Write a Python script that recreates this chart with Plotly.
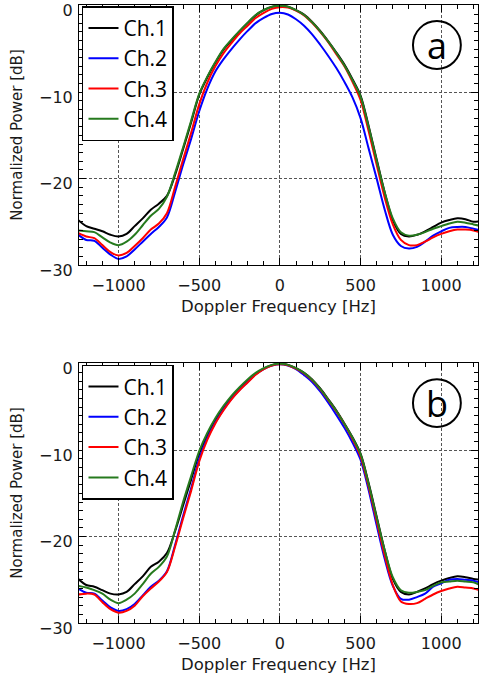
import plotly.graph_objects as go

# Doppler frequency grid [Hz]
freq = [-1250, -1200, -1150, -1100, -1050, -1000, -950, -900, -850, -800,
        -750, -700, -650, -600, -550, -500, -450, -400, -350, -300,
        -250, -200, -150, -100, -50, 0, 50, 100, 150, 200,
        250, 300, 350, 400, 450, 500, 550, 600, 650, 700,
        750, 800, 850, 900, 950, 1000, 1050, 1100, 1150, 1200, 1250]

channels = ["Ch.1", "Ch.2", "Ch.3", "Ch.4"]
colors = ["#000000", "#0000ff", "#ff0000", "#267a1e"]

# Panel (a) normalized power [dB]
a_ch1 = [-24.8, -25.5, -25.8, -26.1, -26.5, -26.7, -26.4, -25.5, -24.6, -23.6,
         -22.9, -22.0, -19.6, -16.6, -13.5, -10.3, -8.3, -6.6, -5.1, -4.0,
         -2.95, -2.0, -1.1, -0.5, -0.12, 0.0, -0.1, -0.5, -1.0, -1.85,
         -2.9, -4.1, -5.4, -6.8, -8.5, -10.4, -13.9, -17.8, -21.6, -24.8,
         -26.4, -26.7, -26.5, -26.1, -25.6, -25.1, -24.8, -24.6, -24.7, -25.0, -24.9]
a_ch2 = [-26.5, -27.1, -27.2, -28.0, -28.8, -29.3, -29.0, -28.2, -27.3, -26.4,
         -25.6, -24.5, -21.6, -18.4, -15.4, -12.2, -9.6, -7.6, -6.2, -5.0,
         -3.9, -2.9, -2.0, -1.4, -0.95, -0.8, -1.0, -1.55, -2.3, -3.3,
         -4.5, -5.8, -7.2, -8.8, -10.6, -13.0, -16.5, -20.0, -23.6, -26.5,
         -27.8, -28.1, -27.9, -27.3, -26.6, -26.1, -25.7, -25.6, -25.6, -25.8, -26.0]
a_ch3 = [-26.3, -26.7, -26.9, -27.7, -28.5, -28.9, -28.6, -27.8, -26.9, -25.9,
         -25.2, -24.0, -21.0, -17.8, -14.7, -11.4, -8.9, -7.0, -5.5, -4.3,
         -3.2, -2.3, -1.4, -0.8, -0.35, -0.15, -0.2, -0.55, -1.1, -1.95,
         -3.0, -4.2, -5.6, -7.0, -8.8, -10.9, -14.5, -18.4, -22.2, -25.3,
         -27.1, -27.7, -27.7, -27.3, -26.8, -26.4, -26.1, -25.9, -25.9, -26.0, -26.3]
a_ch4 = [-26.0, -26.1, -26.2, -26.8, -27.4, -27.7, -27.3, -26.5, -25.4, -24.3,
         -23.5, -22.1, -19.4, -16.4, -13.3, -10.2, -8.2, -6.5, -5.0, -3.9,
         -2.9, -1.95, -1.05, -0.48, -0.1, 0.0, -0.1, -0.5, -1.05, -1.9,
         -2.95, -4.15, -5.45, -6.9, -8.6, -10.5, -14.0, -17.9, -21.6, -24.6,
         -26.2, -26.6, -26.5, -26.2, -25.8, -25.5, -25.2, -25.0, -25.1, -25.3, -25.5]

# Panel (b) normalized power [dB]
b_ch1 = [-24.9, -25.6, -25.8, -26.2, -26.6, -26.7, -26.4, -25.5, -24.6, -23.5,
         -22.9, -21.9, -19.4, -16.4, -13.4, -10.4, -8.3, -6.6, -5.1, -3.9,
         -2.9, -2.0, -1.15, -0.55, -0.15, 0.0, -0.12, -0.5, -1.05, -1.8,
         -2.85, -4.1, -5.4, -6.9, -8.5, -10.4, -13.8, -17.7, -21.6, -24.9,
         -26.4, -26.7, -26.4, -26.0, -25.5, -25.1, -24.8, -24.6, -24.7, -24.9, -25.0]
b_ch2 = [-26.0, -26.5, -26.6, -27.4, -28.2, -28.6, -28.4, -27.8, -26.8, -25.8,
         -25.1, -24.0, -21.0, -17.6, -14.4, -11.0, -8.6, -6.8, -5.3, -4.05,
         -3.0, -2.1, -1.2, -0.6, -0.2, -0.05, -0.2, -0.6, -1.3, -2.1,
         -3.2, -4.5, -5.9, -7.4, -9.1, -11.1, -14.6, -18.7, -22.6, -25.7,
         -27.2, -27.3, -27.0, -26.6, -25.8, -25.4, -25.0, -24.9, -25.0, -25.1, -25.4]
b_ch3 = [-26.7, -26.6, -26.7, -27.6, -28.4, -28.8, -28.6, -28.0, -26.9, -26.0,
         -25.2, -24.1, -21.2, -17.9, -14.7, -11.3, -8.8, -6.9, -5.4, -4.1,
         -3.05, -2.15, -1.25, -0.6, -0.2, -0.05, -0.15, -0.55, -1.1, -1.9,
         -2.95, -4.2, -5.5, -7.0, -8.7, -10.7, -14.2, -18.2, -22.2, -25.6,
         -27.5, -27.8, -27.7, -27.2, -26.7, -26.3, -26.0, -25.8, -25.9, -26.0, -26.3]
b_ch4 = [-25.7, -25.9, -26.2, -26.6, -27.3, -27.7, -27.3, -26.6, -25.5, -24.3,
         -23.5, -22.3, -19.3, -16.0, -13.0, -10.1, -8.0, -6.3, -4.9, -3.7,
         -2.7, -1.8, -1.05, -0.5, -0.12, 0.0, -0.12, -0.5, -1.05, -1.85,
         -2.9, -4.15, -5.45, -6.95, -8.55, -10.45, -13.9, -17.8, -21.6, -24.7,
         -26.2, -26.5, -26.4, -26.2, -25.7, -25.3, -25.2, -25.1, -25.2, -25.3, -25.7]

x_ticks = [-1000, -500, 0, 500, 1000]
y_ticks = [0, -10, -20, -30]
panel_labels = ["a", "b"]

panel_a = [a_ch1, a_ch2, a_ch3, a_ch4]
panel_b = [b_ch1, b_ch2, b_ch3, b_ch4]

fig = go.Figure()
for xa, ya, lg, data in [("x", "y", "legend", panel_a), ("x2", "y2", "legend2", panel_b)]:
    for name, col, vals in zip(channels, colors, data):
        fig.add_trace(go.Scatter(x=freq, y=vals, mode="lines", name=name,
                                 line=dict(color=col, width=2, shape="spline", smoothing=0.9),
                                 xaxis=xa, yaxis=ya, legend=lg))

tick_font = dict(family="DejaVu Sans", size=16, color="#1a1a1a")
xtitle_font = dict(family="DejaVu Sans", size=16.5, color="#1a1a1a")
ytitle_font = dict(family="DejaVu Sans", size=15, color="#1a1a1a")
top_dom = [0.5793, 1.0]
bot_dom = [0.0, 0.4207]

def xaxis_cfg(anchor):
    return dict(domain=[0, 1], anchor=anchor, range=[-1245, 1228], automargin=False,
                tickvals=x_ticks, ticks="inside", ticklen=7, tickcolor="black",
                mirror="allticks", showline=True, linecolor="black", linewidth=1,
                showgrid=True, gridcolor="#555555", gridwidth=1, griddash="3px,2px",
                zeroline=False, tickfont=tick_font, ticklabelstandoff=6,
                ticklabeloverflow="allow",
                minor=dict(ticks="inside", ticklen=4, dtick=100, tick0=0,
                           tickcolor="black", showgrid=False),
                title=dict(text="Doppler Frequency [Hz]", font=xtitle_font, standoff=6))

def yaxis_cfg(anchor, dom):
    return dict(domain=dom, anchor=anchor, range=[-30, 0.1], automargin=False,
                tickvals=y_ticks, ticks="inside", ticklen=7, tickcolor="black",
                mirror="allticks", showline=True, linecolor="black", linewidth=1,
                showgrid=True, gridcolor="#555555", gridwidth=1, griddash="3px,2px",
                zeroline=False, tickfont=tick_font, ticklabelstandoff=2,
                ticklabelshift=5, ticklabeloverflow="allow",
                minor=dict(ticks="inside", ticklen=4, dtick=1, tick0=0,
                           tickcolor="black", showgrid=False),
                title=dict(text="Normalized Power [dB]", font=ytitle_font, standoff=12))

legend_common = dict(xanchor="left", yanchor="top", bgcolor="white",
                     bordercolor="black", borderwidth=1.5,
                     font=dict(family="Open Sans", size=21, color="black"),
                     itemwidth=30, tracegroupgap=0)

fig.update_layout(
    width=480, height=679,
    margin=dict(l=79, r=2, t=5, b=56),
    paper_bgcolor="white", plot_bgcolor="white",
    xaxis=xaxis_cfg("y"), yaxis=yaxis_cfg("x", top_dom),
    xaxis2=xaxis_cfg("y2"), yaxis2=yaxis_cfg("x2", bot_dom),
    legend=dict(x=0.0075, y=0.998, **legend_common),
    legend2=dict(x=0.0075, y=0.4207 - 0.003, **legend_common),
)

for i, (xr, yr) in enumerate([("x domain", "y domain"), ("x2 domain", "y2 domain")]):
    fig.add_shape(type="circle", xref=xr, yref=yr, x0=0.837, x1=0.957,
                  y0=0.754, y1=0.938, line=dict(color="black", width=2))
    fig.add_annotation(xref=xr, yref=yr, x=0.897, y=0.846, text=panel_labels[i],
                       xanchor="center", yanchor="middle", showarrow=False,
                       font=dict(family="Open Sans", size=36, color="black"))

fig.write_html("out.html", config={"displayModeBar": False},
               post_script="document.body.style.margin='0';")
